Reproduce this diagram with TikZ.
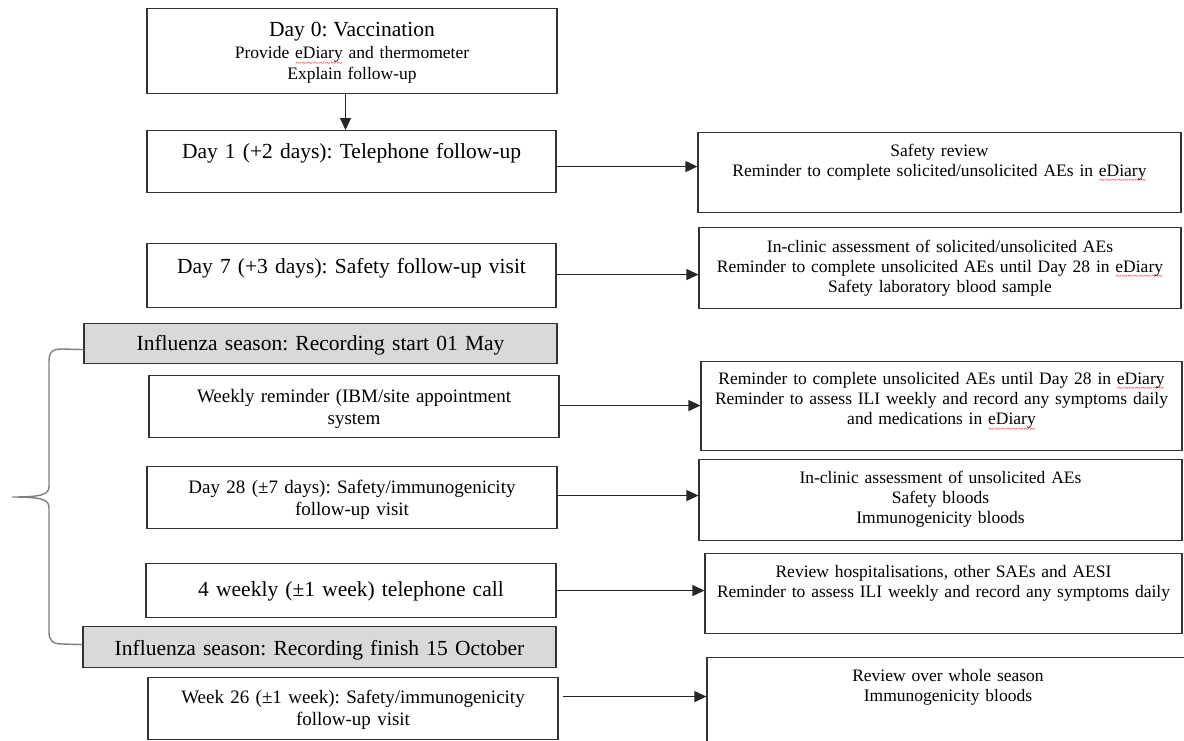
\documentclass[tikz,border=0pt]{standalone}
\usepackage{fontspec}
\setmainfont{Liberation Serif}
\usetikzlibrary{arrows.meta}
\frenchspacing

\definecolor{seasongray}{HTML}{D9D9D9}
\definecolor{bracegray}{HTML}{7F7F7F}

% red spelling wave under a word
\newcommand{\spellmark}[1]{{\setbox0=\hbox{#1}\rlap{\color{red}\raisebox{-7.5pt}[0pt][0pt]{\hbox to \wd0{\xleaders\hbox{\fontsize{10}{10}\selectfont\textasciitilde}\hfil}}}\box0}}

\begin{document}
\begin{tikzpicture}[x=1pt, y=-1pt,
    plainbox/.style={draw=black!80, line width=1.1pt, align=center, anchor=north, inner xsep=0pt, inner ysep=0pt},
    graybox/.style={plainbox, fill=seasongray},
    titletext/.style={font=\fontsize{21.5}{24}\selectfont},
    steptext/.style={font=\fontsize{19}{22}\selectfont},
    notetext/.style={font=\fontsize{17.5}{20.4}\selectfont},
    arr/.style={draw=black!85, line width=1.1pt, -{Triangle[length=12pt, width=11pt]}},
    brace/.style={draw=bracegray, line width=1.4pt}]
    \useasboundingbox (0,0) rectangle (1184,740);
    \clip (0,0) rectangle (1184,740);

    % Left column: visits and calls
    \node[plainbox, notetext, text width=410pt, text height=28pt, text depth=57pt] (day0) at (352,8)
        {{\fontsize{21.5}{24}\selectfont Day 0: Vaccination}\\[2pt] Provide \spellmark{eDiary} and thermometer\\ Explain follow-up};
    \node[plainbox, titletext, text width=409pt, text height=28pt, text depth=34pt] (day1) at (351.5,130)
        {Day 1 (+2 days): Telephone follow-up};
    \node[plainbox, titletext, text width=409pt, text height=30pt, text depth=34pt] (day7) at (351.5,243)
        {Day 7 (+3 days): Safety follow-up visit};
    \node[graybox, titletext, text width=473pt, text height=27pt, text depth=13pt] (seasonstart) at (320.5,323)
        {Influenza season: Recording start 01 May};
    \node[plainbox, steptext, text width=410pt, text height=26.5pt, text depth=35.5pt] (weekly) at (354,375)
        {Weekly reminder (IBM/site appointment\\ system};
    \node[plainbox, steptext, text width=410pt, text height=26.5pt, text depth=35.5pt] (day28) at (352,466)
        {Day 28 (±7 days): Safety/immunogenicity\\ follow-up visit};
    \node[plainbox, titletext, text width=410pt, text height=33pt, text depth=21pt] (monthly) at (351,563)
        {4 weekly (±1 week) telephone call};
    \node[graybox, titletext, text width=473pt, text height=29pt, text depth=12pt] (seasonend) at (319.5,626)
        {Influenza season: Recording finish 15 October};
    \node[plainbox, steptext, text width=410pt, text height=26pt, text depth=36pt] (week26) at (353,677)
        {Week 26 (±1 week): Safety/immunogenicity\\ follow-up visit};

    % Right column: what happens at each contact
    \node[plainbox, notetext, text width=483pt, text height=23.5pt, text depth=56.5pt] (review1) at (939.5,132)
        {Safety review\\ Reminder to complete solicited/unsolicited AEs in \spellmark{eDiary}};
    \node[plainbox, notetext, text width=482pt, text height=24.5pt, text depth=56.5pt] (visit7) at (940,227)
        {In-clinic assessment of solicited/unsolicited AEs\\ Reminder to complete unsolicited AEs until Day 28 in \spellmark{eDiary}\\ Safety laboratory blood sample};
    \node[plainbox, notetext, text width=481pt, text height=22.5pt, text depth=66.5pt] (remind) at (941.5,361)
        {Reminder to complete unsolicited AEs until Day 28 in \spellmark{eDiary}\\ Reminder to assess ILI weekly and record any symptoms daily\\ and medications in \spellmark{eDiary}};
    \node[plainbox, notetext, text width=483pt, text height=23.5pt, text depth=57.5pt] (visit28) at (940.5,459)
        {In-clinic assessment of unsolicited AEs\\ Safety bloods\\ Immunogenicity bloods};
    \node[plainbox, notetext, text width=477pt, text height=24pt, text depth=56pt] (calls) at (943.5,553)
        {Review hospitalisations, other SAEs and AESI\\ Reminder to assess ILI weekly and record any symptoms daily};
    \node[plainbox, notetext, text width=482pt, text height=23.5pt, text depth=90pt] (review26) at (948,657)
        {Review over whole season\\ Immunogenicity bloods};

    % Arrows
    \draw[arr] ([xshift=-6.5pt]day0.south) -- ([xshift=-6.5pt]day0.south |- day1.north);
    \draw[arr] ([yshift=-5pt]day1.east) -- ([yshift=-5pt]day1.east -| review1.west);
    \draw[arr] ([yshift=1pt]day7.east) -- ([yshift=1pt]day7.east -| visit7.west);
    \draw[arr] ([xshift=-2pt, yshift=1pt]weekly.east) -- ([yshift=1pt]weekly.east -| remind.west);
    \draw[arr] ([yshift=2pt]day28.east) -- ([yshift=2pt]day28.east -| visit28.west);
    \draw[arr] (monthly.east) -- (monthly.east -| calls.west);
    \draw[arr] ([xshift=4pt, yshift=12pt]week26.east) -- ([yshift=12pt]week26.east -| review26.west);

    % Brace over the influenza season
    \draw[brace] ([yshift=-6pt]seasonstart.west) -- (62,349) .. controls (52,349) and (49,352) .. (49,362)
        -- (49,486) .. controls (49,494) and (44,497) .. (12,497)
        .. controls (44,497) and (49,500) .. (49,508)
        -- (49,632) .. controls (49,640) and (52,644) .. (62,644) -- ([yshift=2.5pt]seasonend.west);
\end{tikzpicture}
\end{document}
